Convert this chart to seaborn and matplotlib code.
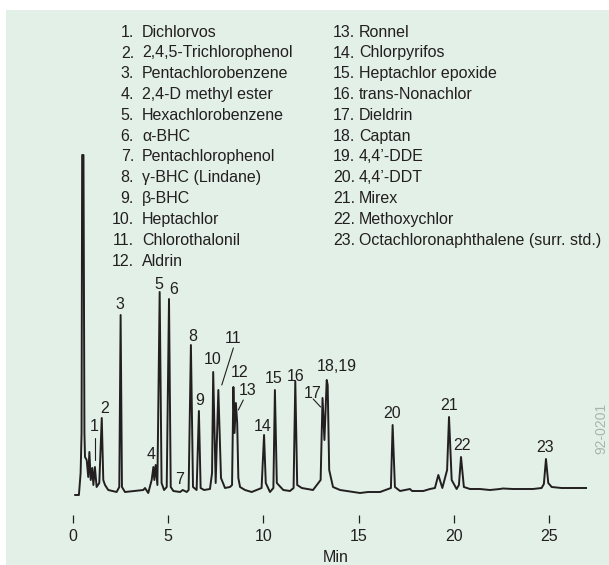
import seaborn as sns
import matplotlib.pyplot as plt
import pandas as pd
from matplotlib.patches import Rectangle

# ---- data (time in min, detector response in arbitrary units) ----
time_min = [0.10, 0.31, 0.40, 0.45, 0.48, 0.55, 0.60, 0.63, 0.72, 0.80, 0.86, 0.93, 1.01, 1.07,
            1.15, 1.24, 1.38, 1.51, 1.59, 1.68, 1.85, 2.29, 2.43, 2.50, 2.57, 2.73, 3.69, 3.78,
            3.95, 4.13, 4.22, 4.27, 4.34, 4.43, 4.55, 4.65, 4.78, 4.92, 5.04, 5.13, 5.27, 5.62,
            5.76, 5.97, 6.07, 6.19, 6.30, 6.49, 6.61, 6.70, 6.88, 7.19, 7.30, 7.36, 7.49, 7.63,
            7.77, 7.98, 8.24, 8.35, 8.42, 8.48, 8.55, 8.62, 8.68, 8.77, 9.03, 9.38, 9.90, 10.03,
            10.12, 10.34, 10.52, 10.60, 10.70, 11.04, 11.39, 11.58, 11.67, 11.77, 12.01, 12.60,
            13.00, 13.10, 13.20, 13.32, 13.37, 13.45, 13.65, 14.02, 15.07, 15.49, 16.12, 16.69,
            16.78, 16.90, 17.17, 17.69, 17.80, 18.39, 18.74, 19.00, 19.18, 19.39, 19.64, 19.74,
            19.88, 20.14, 20.26, 20.37, 20.52, 20.84, 21.36, 21.89, 22.41, 22.57, 23.10, 24.15,
            24.60, 24.72, 24.83, 24.95, 25.13, 25.65, 27.00]
response = [-2, -2, 20, 60, 338, 338, 60, 36, 33, 16, 41, 13, 25, 8,
            26, 6, 10, 75, 13, 8, 3, 1, 6, 178, 6, 1, 3, 5,
            0, 13, 26, 13, 28, 8, 201, 10, 3, 6, 194, 6, 2, 1,
            3, 1, 3, 148, 6, 3, 82, 5, 3, 4, 20, 121, 10, 103,
            15, 5, 6, 8, 106, 60, 90, 70, 15, 6, 3, 1, 5, 58,
            10, 1, 5, 103, 10, 3, 2, 5, 112, 8, 5, 3,
            13, 95, 53, 113, 108, 23, 6, 3, 0, 1, 1, 5,
            68, 6, 2, 4, 2, 2, 4, 5, 18, 5, 23, 76,
            13, 4, 8, 36, 6, 4, 4, 3, 4, 4.5, 4, 4,
            5, 9, 34, 10, 6, 5, 5]

# peak numbers and where they are written
peak_labels = ["1", "2", "3", "4", "5", "6", "7", "8", "9", "10", "11", "12",
               "13", "14", "15", "16", "17", "18,19", "20", "21", "22", "23"]
label_t = [1.10, 1.68, 2.47, 4.09, 4.51, 5.30, 5.62, 6.30, 6.67, 7.35, 8.40, 8.77,
           9.17, 9.94, 10.55, 11.71, 12.56, 13.84, 16.76, 19.74, 20.40, 24.78]
label_h = [62, 80, 184, 34, 204, 199, 9, 152, 88, 129, 150, 116,
           98, 62, 110, 112, 95, 122, 75, 83, 43, 41]

# leader lines for crowded peaks: (t1, h1, t2, h2)
leaders = [(1.15, 55, 1.15, 33), (8.42, 145, 7.81, 108),
           (8.94, 93, 8.68, 83), (12.61, 94, 13.00, 86)]

compounds_left = ["Dichlorvos", "2,4,5-Trichlorophenol", "Pentachlorobenzene",
                  "2,4-D methyl ester", "Hexachlorobenzene", "\u03b1-BHC",
                  "Pentachlorophenol", "\u03b3-BHC (Lindane)", "\u03b2-BHC",
                  "Heptachlor", "Chlorothalonil", "Aldrin"]
compounds_right = ["Ronnel", "Chlorpyrifos", "Heptachlor epoxide", "trans-Nonachlor",
                   "Dieldrin", "Captan", "4,4\u2019-DDE", "4,4\u2019-DDT", "Mirex",
                   "Methoxychlor", "Octachloronaphthalene (surr. std.)"]

x_ticks = [0, 5, 10, 15, 20, 25]

# ---- plot ----
sns.set_theme(style="white")
plt.rcParams["font.family"] = ["Liberation Sans", "DejaVu Sans"]

INK = "#231f20"
W, H = 609, 565
fig = plt.figure(figsize=(W / 100, H / 100), dpi=100)
fig.patch.set_facecolor("white")
# pale green panel behind everything
fig.patches.append(Rectangle((6 / W, 0), 603 / W, 555 / H, transform=fig.transFigure,
                             facecolor="#e2f0e7", edgecolor="none", zorder=-10))

ax = fig.add_axes([73 / W, 1 - 515 / H, 514.3 / W, 365 / H])
ax.set_zorder(1)
ax.patch.set_alpha(0)

df = pd.DataFrame({"Min": time_min, "Response": response})
sns.lineplot(data=df, x="Min", y="Response", estimator=None, sort=False,
             color=INK, linewidth=1.4, ax=ax)

for lab, t, h in zip(peak_labels, label_t, label_h):
    ax.text(t, h, lab, ha="center", va="baseline", fontsize=11.5, color=INK)
for t1, h1, t2, h2 in leaders:
    ax.plot([t1, t2], [h1, h2], color=INK, linewidth=0.8)

ax.set_xlim(0, 27)
ax.set_ylim(-22, 343)
ax.set_xticks(x_ticks)
ax.set_xticklabels([str(v) for v in x_ticks])
ax.tick_params(axis="x", direction="out", length=5.8, width=0.9, color=INK,
               labelcolor=INK, labelsize=11.5, pad=4, bottom=True)
ax.set_yticks([])
ax.set_xlabel("")
ax.set_ylabel("")
for s in ax.spines.values():
    s.set_visible(False)

fig.text(336 / W, 1 - 562 / H, "Min", ha="center", va="baseline", fontsize=11.5, color=INK)

# compound list
for i, name in enumerate(compounds_left):
    yb = 1 - (36.7 + 20.8 * i) / H
    fig.text(134 / W, yb, f"{i + 1}.", ha="right", va="baseline", fontsize=11.5, color=INK)
    fig.text(142 / W, yb, name, ha="left", va="baseline", fontsize=11.5, color=INK)
for i, name in enumerate(compounds_right):
    yb = 1 - (36.7 + 20.8 * i) / H
    fig.text(355 / W, yb, f"{i + 13}.", ha="right", va="baseline", fontsize=11.5, color=INK)
    fig.text(359 / W, yb, name, ha="left", va="baseline", fontsize=11.5, color=INK)

fig.text(601 / W, 1 - 428 / H, "92-0201", rotation=90, ha="center", va="center",
         fontsize=10, color="#aab4af")

fig.savefig("out.png", dpi=100)
